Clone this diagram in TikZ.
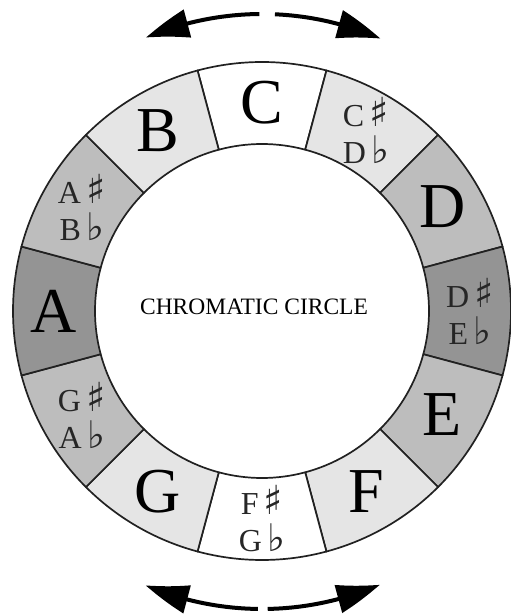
\documentclass[tikz,border=0pt]{standalone}
\usepackage{fontspec}
\setmainfont{Liberation Serif}
\newfontfamily\symfont{DejaVu Sans}
\usetikzlibrary{arrows.meta,bending}
\definecolor{segW}{gray}{1.0}
\definecolor{segL}{gray}{0.90}
\definecolor{segM}{gray}{0.74}
\definecolor{segD}{gray}{0.58}
\definecolor{ringline}{gray}{0.13}
\newcommand{\shp}{{\symfont\fontsize{40}{37}\selectfont\char"266F}}
\newcommand{\flt}{{\symfont\fontsize{38}{37}\selectfont\char"266D}}
\tikzset{
  seg/.style={draw=ringline, line width=1.7pt, line join=round},
  bignote/.style={font=\fontsize{64}{64}\selectfont, text=black, inner sep=0pt},
  smallnote/.style={font=\fontsize{32}{37}\selectfont, text=black!85, align=center, inner sep=0pt},
  bigarrow/.style={line width=4pt, -{Triangle[length=44pt,width=28pt,bend]}},
  titletext/.style={font=\fontsize{23.5}{24}\selectfont, text=black}
}
\begin{document}
\begin{tikzpicture}[x=1pt,y=1pt]
\useasboundingbox (0,0) rectangle (511,614);
\begin{scope}[shift={(262,303)}]
  % segments
  \foreach \i/\col in {0/segW,1/segL,2/segM,3/segD,4/segM,5/segL,6/segW,7/segL,8/segM,9/segD,10/segM,11/segL}{
    \pgfmathsetmacro{\aone}{105-30*\i}
    \pgfmathsetmacro{\atwo}{75-30*\i}
    \filldraw[seg, fill=\col] (\aone:249pt) arc[start angle=\aone, end angle=\atwo, radius=249pt]
      -- (\atwo:167pt) arc[start angle=\atwo, end angle=\aone, radius=167pt] -- cycle;
  }
  % labels
  \node[bignote] (nC) at (90:208pt) {C};
  \node[smallnote] (nCs) at (60:208pt) {C\,\shp\\D\,\flt};
  \node[bignote] (nD) at (30:208pt) {D};
  \node[smallnote] (nDs) at (0:208pt) {D\,\shp\\E\,\flt};
  \node[bignote] (nE) at (-30:208pt) {E};
  \node[bignote] (nF) at (-60:208pt) {F};
  \node[smallnote] (nFs) at (-90:208pt) {F\,\shp\\G\,\flt};
  \node[bignote] (nG) at (-120:208pt) {G};
  \node[smallnote] (nGs) at (-150:208pt) {G\,\shp\\A\,\flt};
  \node[bignote] (nA) at (180:208pt) {A};
  \node[smallnote] (nAs) at (150:208pt) {A\,\shp\\B\,\flt};
  \node[bignote] (nB) at (120:208pt) {B};
  \node[titletext] (title) at (-8,4) {CHROMATIC CIRCLE};
  % arrows
  \coordinate (tl) at (90.5:297pt);
  \coordinate (tr) at (87.5:297pt);
  \coordinate (bl) at (-90.8:298pt);
  \coordinate (br) at (-88.9:298pt);
  \draw[bigarrow] (tl) arc[start angle=90.5, end angle=113, radius=297pt];
  \draw[bigarrow] (tr) arc[start angle=87.5, end angle=66.5, radius=297pt];
  \draw[bigarrow] (bl) arc[start angle=-90.8, end angle=-113, radius=298pt];
  \draw[bigarrow] (br) arc[start angle=-88.9, end angle=-66.7, radius=298pt];
\end{scope}
\end{tikzpicture}
\end{document}
